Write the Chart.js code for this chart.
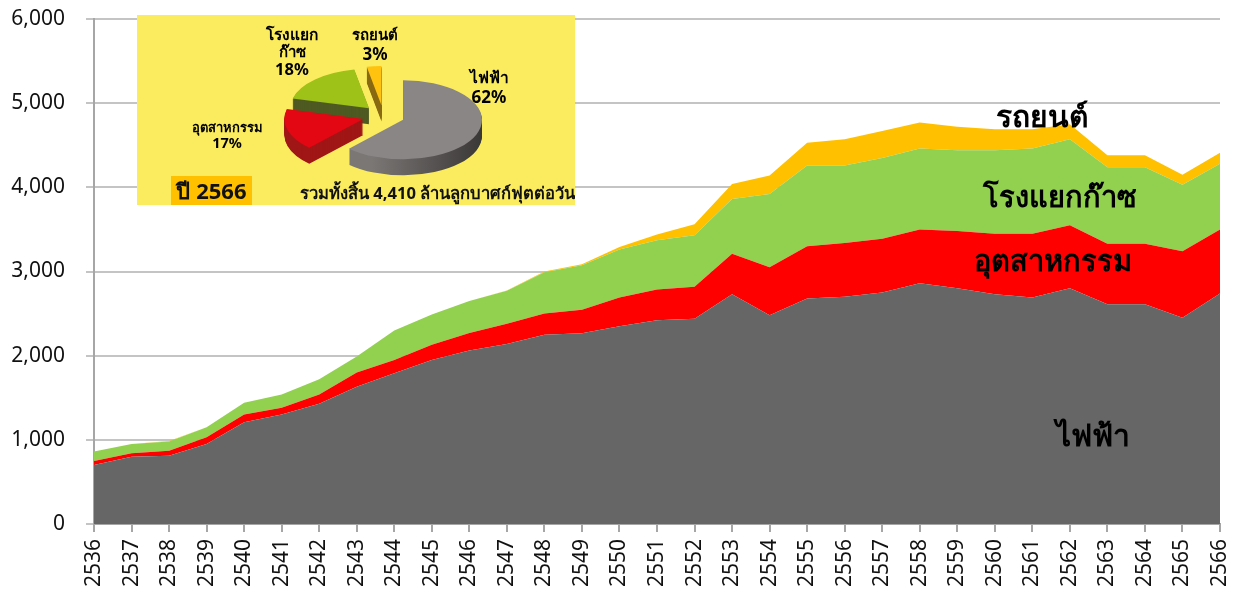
<!DOCTYPE html>
<html>
<head>
<meta charset="utf-8">
<script src="https://cdn.jsdelivr.net/npm/chart.js@4"></script>
<style>
  html, body { margin: 0; padding: 0; background: #fff; }
  #wrap { position: relative; width: 1239px; height: 592px; overflow: hidden; font-family: "Noto Sans", sans-serif; }
  #myChart { position: absolute; left: 0; top: 0; }
  #inset { position: absolute; left: 137px; top: 15px; width: 438px; height: 190px; background: #FBEC5F; overflow: hidden; }
  #pieChart { position: absolute; left: 0; top: 0; }
  .lbl { position: absolute; font-weight: bold; color: #000; white-space: nowrap; text-align: center; transform: translate(-50%, -50%); line-height: 1.15; }
</style>
</head>
<body>
<div id="wrap">
  <canvas id="myChart" width="1239" height="592"></canvas>
  <div id="inset"><canvas id="pieChart" width="438" height="190"></canvas></div>
</div>
<script>
// years on the x axis
const years = ["2536","2537","2538","2539","2540","2541","2542","2543","2544","2545","2546","2547","2548","2549","2550","2551","2552","2553","2554","2555","2556","2557","2558","2559","2560","2561","2562","2563","2564","2565","2566"];
// each series is its own layer, the chart stacks them
const power = [700,800,810,950,1210,1300,1430,1630,1790,1950,2060,2140,2250,2265,2350,2420,2440,2730,2480,2680,2700,2750,2860,2800,2730,2690,2800,2610,2610,2450,2740];
const industry = [50,40,60,80,90,80,110,170,160,180,210,240,250,280,340,365,380,480,570,620,640,640,640,680,720,760,750,720,720,790,760];
const gasPlant = [110,110,110,120,140,160,180,190,350,360,380,390,490,530,570,585,610,650,870,960,920,960,960,960,990,1010,1020,910,910,790,780];
const cars = [0,0,5,0,0,0,0,0,0,0,0,5,10,10,30,70,130,180,220,270,310,320,310,280,250,230,180,140,140,120,130];

const seriesNames = ["ไฟฟ้า","อุตสาหกรรม","โรงแยกก๊าซ","รถยนต์"];

// inset pie, year 2566
const pieNames = ["ไฟฟ้า","อุตสาหกรรม","โรงแยกก๊าซ","รถยนต์"];
const pieShares = [62,17,18,3];

function area(name, values, color, fill) {
  return { label: name, data: values, backgroundColor: color, borderWidth: 0, pointRadius: 0, tension: 0, fill: fill };
}

new Chart("myChart", {
  type: "line",
  data: {
    labels: years,
    datasets: [
      area(seriesNames[0], power, "#666666", "origin"),
      area(seriesNames[1], industry, "#FF0000", "-1"),
      area(seriesNames[2], gasPlant, "#92D050", "-1"),
      area(seriesNames[3], cars, "#FFC000", "-1")
    ]
  },
  options: {
    responsive: false,
    animation: false,
    layout: { padding: { top: 19, right: 19 } },
    plugins: { legend: { display: false }, tooltip: { enabled: false } },
    scales: {
      x: {
        stacked: true,
        offset: false,
        // labels hang over the edge, don't let them shrink the plot
        afterFit: s => { s.height = 68; s.paddingLeft = 0; s.paddingRight = 0; },
        border: { color: "#A6A6A6", width: 2 },
        grid: { drawOnChartArea: false, color: "#A6A6A6", lineWidth: 2, tickLength: 8 },
        ticks: { color: "#111", minRotation: 90, maxRotation: 90, autoSkip: false, padding: 7, font: { family: "Noto Sans", size: 21 } }
      },
      y: {
        stacked: true,
        min: 0,
        max: 6000,
        afterFit: s => { s.width = 94; s.paddingTop = 0; s.paddingBottom = 0; },
        border: { color: "#A6A6A6", width: 2 },
        grid: { color: "#C4C4C4", lineWidth: 2, tickLength: 8 },
        ticks: {
          stepSize: 1000,
          color: "#111",
          padding: 21,
          font: { family: "Noto Sans", size: 21 },
          callback: v => v.toLocaleString("en-US")
        }
      }
    }
  }
});

// tilt the pie and give it a side wall, slices are still the library's arcs
const squash = 0.5, depth = 16, pieRadius = 79, pieOffset = 84;
const pieTop = ["#8A8685","#E30613","#9EC217","#FFC20E"];
const pieSide = ["#55514F","#A01616","#4E5A22","#8A6A14"];

function tilt(chart) {
  const ctx = chart.ctx, first = chart.getDatasetMeta(0).data[0];
  ctx.translate(first.x, first.y);
  ctx.scale(1, squash);
  ctx.translate(-first.x, -first.y);
}

const tiltPlugin = {
  id: "tilt",
  afterDatasetsUpdate(chart) {
    // Arc.draw grows each slice and trims its angle because of the offset, undo that so radii and shares match
    chart.getDatasetMeta(0).data.forEach(a => {
      const grow = pieOffset / 4 * (1 - Math.sin(Math.min(Math.PI, a.circumference)));
      const trim = grow / (2 * Math.PI * pieRadius);
      a.outerRadius = pieRadius - grow;
      a.startAngle -= trim;
      a.endAngle += trim;
    });
  },
  beforeDatasetsDraw(chart) {
    const arcs = chart.getDatasetMeta(0).data;
    const ctx = chart.ctx;
    const grad = ctx.createLinearGradient(215, 0, 345, 0);
    grad.addColorStop(0, "#7a7775");
    grad.addColorStop(1, "#2f2c2c");
    for (let d = depth; d > 0; d--) {
      ctx.save();
      ctx.translate(0, d);
      tilt(chart);
      arcs.forEach((a, i) => {
        const saved = a.options;
        const o = Object.create(saved);
        o.backgroundColor = i === 0 ? grad : pieSide[i];
        a.options = o;
        a.draw(ctx);
        a.options = saved;
      });
      ctx.restore();
    }
    ctx.save();
    tilt(chart);
  },
  afterDatasetsDraw(chart) {
    chart.ctx.restore();
  }
};

new Chart("pieChart", {
  type: "pie",
  data: {
    labels: pieNames,
    datasets: [{ data: pieShares, backgroundColor: pieTop, borderWidth: 0, offset: pieOffset, radius: pieRadius }]
  },
  options: {
    responsive: false,
    animation: false,
    layout: { padding: { left: 55, top: 12 } },
    plugins: { legend: { display: false }, tooltip: { enabled: false } }
  },
  plugins: [tiltPlugin]
});

// text on top of the charts
const wrap = document.getElementById("wrap");
const labelText = [
  [seriesNames[3], 1042, 116, 30],
  [seriesNames[2], 1060, 196, 29],
  [seriesNames[1], 1053, 260, 29],
  [seriesNames[0], 1093, 435, 30],
  ["โรงแยก", 292, 35, 15.5],
  ["ก๊าซ", 292, 52, 15],
  ["18%", 292, 69, 16.5],
  [pieNames[3], 375, 35, 15],
  ["3%", 375, 54, 17],
  [pieNames[0], 489, 78, 15.5],
  ["62%", 489, 97, 17],
  [pieNames[1], 227, 127, 13],
  ["17%", 227, 142, 14.5]
];
labelText.forEach(t => {
  const el = document.createElement("div");
  el.className = "lbl";
  el.textContent = t[0];
  el.style.left = t[1] + "px";
  el.style.top = t[2] + "px";
  el.style.fontSize = t[3] + "px";
  wrap.appendChild(el);
});

const inset = document.getElementById("inset");
const year = document.createElement("div");
year.textContent = "ปี 2566";
year.style.cssText = "position:absolute;left:34px;top:161px;width:81px;height:29px;line-height:29px;background:#FFC000;font-weight:bold;font-size:22px;text-align:center;color:#111;";
inset.appendChild(year);
const total = document.createElement("div");
total.textContent = "รวมทั้งสิ้น 4,410 ล้านลูกบาศก์ฟุตต่อวัน";
total.style.cssText = "position:absolute;left:163px;top:167px;font-weight:bold;font-size:16.6px;line-height:22px;white-space:nowrap;color:#111;";
inset.appendChild(total);
</script>
</body>
</html>
